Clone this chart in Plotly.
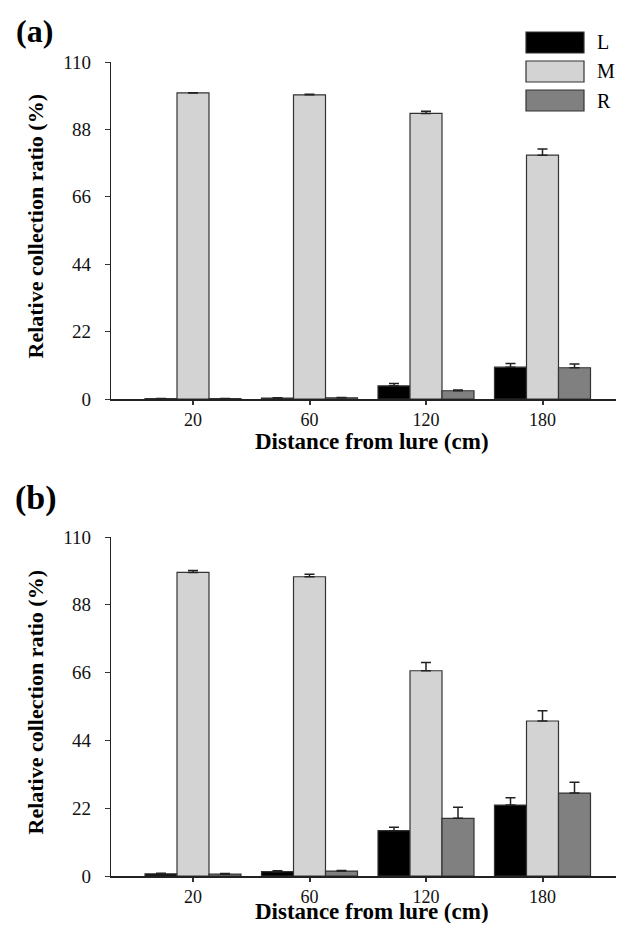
import plotly.graph_objects as go

# ---- data ----
distances = ["20", "60", "120", "180"]
series_names = ["L", "M", "R"]
series_colors = ["#000000", "#d2d3d2", "#808080"]

a_L = [0.1, 0.3, 4.3, 10.4]
a_L_err = [0.05, 0.1, 0.8, 1.2]
a_M = [99.9, 99.3, 93.2, 79.6]
a_M_err = [0.1, 0.2, 0.7, 2.0]
a_R = [0.1, 0.4, 2.7, 10.2]
a_R_err = [0.05, 0.1, 0.2, 1.2]

b_L = [0.7, 1.4, 14.7, 23.0]
b_L_err = [0.2, 0.3, 1.1, 2.4]
b_M = [98.5, 97.1, 66.6, 50.3]
b_M_err = [0.6, 0.8, 2.7, 3.3]
b_R = [0.6, 1.6, 18.7, 26.9]
b_R_err = [0.2, 0.2, 3.6, 3.5]

y_ticks = [0, 22, 44, 66, 88, 110]

# page has an 8px body margin; size the figure so page == window
OFF = 8
W, H = 624 - 2 * OFF, 931 - 2 * OFF
FONT = "Liberation Serif"

def px_x(p):
    return (p - OFF) / W

def px_y(p):
    return 1 - (p - OFF) / H

fig = go.Figure()
xpos = list(range(len(distances)))

panels = [
    ("x", "y", [a_L, a_M, a_R], [a_L_err, a_M_err, a_R_err]),
    ("x2", "y2", [b_L, b_M, b_R], [b_L_err, b_M_err, b_R_err]),
]
for xa, ya, vals, errs in panels:
    for name, color, v, e in zip(series_names, series_colors, vals, errs):
        fig.add_trace(go.Bar(
            x=xpos, y=v, name=name, xaxis=xa, yaxis=ya,
            marker=dict(color=color, line=dict(color="#333333", width=1.2)),
            error_y=dict(type="data", symmetric=False, array=e,
                         arrayminus=[0] * len(e), color="#222222",
                         thickness=1.5, width=5),
            showlegend=False,
        ))

x_left, x_right = 111, OFF + W
cat0, cat_step = 193, 116.5
xdom = [px_x(x_left), 1.0]
common_x = dict(
    domain=xdom,
    range=[(x_left - cat0) / cat_step, (x_right - cat0) / cat_step],
    tickmode="array", tickvals=xpos,
    ticktext=distances, ticks="outside", ticklen=4, tickwidth=1.5,
    tickcolor="#333333", showline=True, linecolor="#222222", linewidth=1.5,
    showgrid=False, zeroline=False, automargin=False, ticklabelstandoff=0,
    tickfont=dict(family=FONT, size=18, color="#111111"),
)
common_y = dict(
    range=[0, 110], tickmode="array", tickvals=y_ticks,
    ticks="outside", ticklen=5, tickwidth=1.2, tickcolor="#333333",
    showline=True, linecolor="#222222", linewidth=1.2,
    showgrid=False, zeroline=False, ticklabelstandoff=10, automargin=False,
    tickfont=dict(family=FONT, size=19, color="#111111"),
)

fig.update_layout(
    width=W, height=H,
    margin=dict(l=0, r=0, t=0, b=0, autoexpand=False),
    paper_bgcolor="white", plot_bgcolor="white",
    barmode="group", bargap=0.176, bargroupgap=0,
    xaxis=dict(anchor="y", **common_x),
    yaxis=dict(anchor="x", domain=[px_y(399), px_y(62)], **common_y),
    xaxis2=dict(anchor="y2", **common_x),
    yaxis2=dict(anchor="x2", domain=[px_y(876), px_y(537)], **common_y),
)

def ann(text, x, y, size, **kw):
    d = dict(text=text, x=px_x(x), y=px_y(y), xref="paper", yref="paper",
             showarrow=False, xanchor="center", yanchor="middle",
             font=dict(family=FONT, size=size, color="black"))
    d.update(kw)
    return d

annotations = []
# panel labels
annotations.append(ann("<b>(a)</b>", 34.5, 31, 32))
annotations.append(ann("<b>(b)</b>", 36, 498, 34))
# axis titles
for yc, xt_y in [(226, 441), (702, 911)]:
    annotations.append(ann("<b>Relative collection ratio (%)</b>", 34.5, yc, 22, textangle=-90))
    annotations.append(ann("<b>Distance from lure (cm)</b>", 372, xt_y, 23))

# legend (drawn manually to match large swatches)
shapes = []
legend_rows = [42.5, 71.5, 100.5]
for name, color, yc in zip(series_names, series_colors, legend_rows):
    shapes.append(dict(type="rect", xref="paper", yref="paper",
                       x0=px_x(526), x1=px_x(584), y0=px_y(yc + 10.5), y1=px_y(yc - 10.5),
                       fillcolor=color, line=dict(color="#333333", width=1.2)))
    annotations.append(ann(name, 595, yc, 20, xanchor="left"))

fig.update_layout(annotations=annotations, shapes=shapes)
fig.write_html("out.html")
